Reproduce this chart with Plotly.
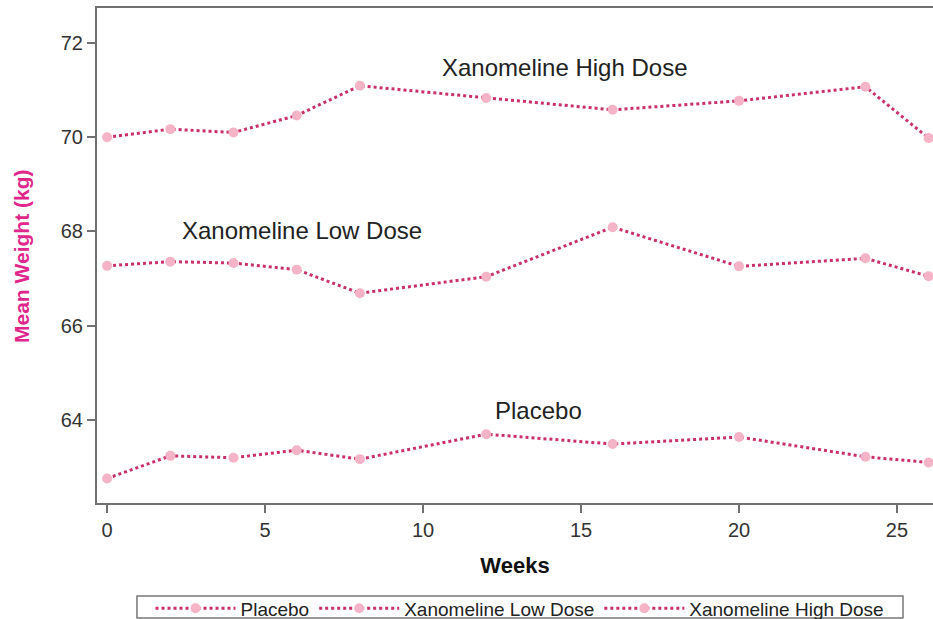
import plotly.graph_objects as go

weeks = [0, 2, 4, 6, 8, 12, 16, 20, 24, 26]
placebo = [62.76, 63.24, 63.20, 63.36, 63.17, 63.70, 63.49, 63.64, 63.22, 63.10]
low_dose = [67.27, 67.36, 67.33, 67.19, 66.69, 67.04, 68.09, 67.26, 67.43, 67.05]
high_dose = [70.00, 70.17, 70.10, 70.46, 71.09, 70.83, 70.58, 70.77, 71.07, 69.98]
series_names = ["Placebo", "Xanomeline Low Dose", "Xanomeline High Dose"]
x_ticks = [0, 5, 10, 15, 20, 25]
y_ticks = [64, 66, 68, 70, 72]

# curve label anchor positions (data units)
label_x = [13.64, 6.17, 14.49]
label_y = [64.21, 68.03, 71.47]

line_color = "#C9306B"
marker_color = "#F4B3C6"
font_family = "Liberation Sans, Arial, sans-serif"

fig = go.Figure()
for name, vals in zip(series_names, [placebo, low_dose, high_dose]):
    fig.add_trace(go.Scatter(
        x=weeks, y=vals, name=name, mode="lines+markers",
        line=dict(color=line_color, width=3, dash="dot"),
        marker=dict(color=marker_color, size=10),
        cliponaxis=False,
    ))

for name, lx, ly in zip(series_names, label_x, label_y):
    fig.add_annotation(x=lx, y=ly, text=name, showarrow=False,
                       font=dict(size=24, color="#222222", family=font_family),
                       xanchor="center", yanchor="middle")

# y-axis title
fig.add_annotation(xref="paper", yref="paper", x=-0.0897, y=0.497,
                   text="<b>Mean Weight (kg)</b>", textangle=-90, showarrow=False,
                   font=dict(size=21, color="#E0268C", family=font_family),
                   xanchor="center", yanchor="middle")

# legend frame
fig.add_shape(type="rect", xref="paper", yref="paper",
              x0=0.0478, x1=0.9641, y0=-0.1879, y1=-0.2325,
              line=dict(color="#777777", width=1.5), fillcolor="rgba(0,0,0,0)")

fig.update_layout(
    width=933, height=619,
    margin=dict(l=97, r=0, t=8, b=116),
    paper_bgcolor="white", plot_bgcolor="white",
    font=dict(family=font_family, color="#333333"),
    showlegend=True,
    legend=dict(orientation="h", xref="paper", x=0.506, xanchor="center",
                yref="container", y=0.0477, yanchor="top",
                borderwidth=0, bgcolor="rgba(0,0,0,0)",
                font=dict(size=19, color="#222222", family=font_family),
                itemwidth=80, tracegroupgap=0),
)
fig.update_xaxes(
    range=[-0.32, 26.14], tickvals=x_ticks, showgrid=False, zeroline=False,
    showline=True, linecolor="#707070", linewidth=2, mirror=True,
    ticks="outside", ticklen=8, tickcolor="#707070", tickwidth=1.5,
    tickfont=dict(size=20, color="#333333"),
    title=dict(text="<b>Weeks</b>", font=dict(size=22, color="#111111"), standoff=18),
)
fig.update_yaxes(
    range=[62.24, 72.74], tickvals=y_ticks, showgrid=False, zeroline=False,
    showline=True, linecolor="#707070", linewidth=2, mirror=False,
    ticks="outside", ticklen=8, tickcolor="#707070", tickwidth=1.5,
    tickfont=dict(size=20, color="#333333"),
)

fig.write_html("out.html", config={"displayModeBar": False},
               post_script="document.body.style.margin='0';document.documentElement.style.overflow='hidden';")
